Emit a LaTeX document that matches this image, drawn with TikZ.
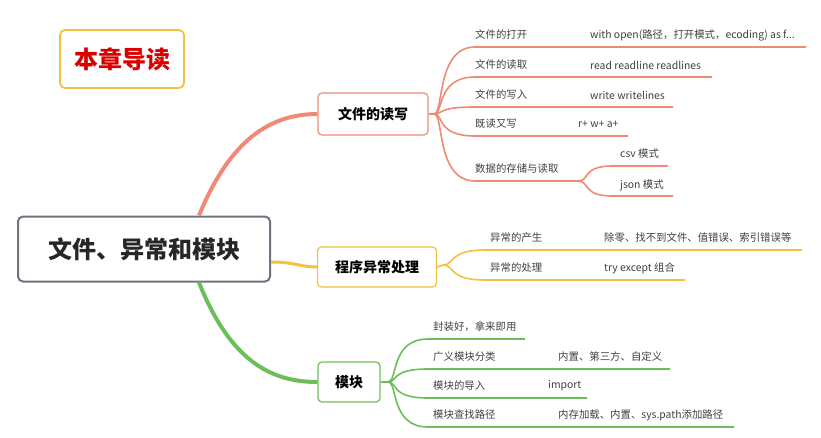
\documentclass[tikz,border=0pt]{standalone}
\usepackage{fontspec}
\setmainfont{Noto Sans CJK SC}
\usetikzlibrary{calc,positioning}
\definecolor{redline}{HTML}{F08A76}
\definecolor{yelline}{HTML}{F5C040}
\definecolor{grnline}{HTML}{6DBE5B}
\definecolor{graybox}{HTML}{6E7380}
\tikzstyle{branch}=[rectangle, draw, very thick, fill=white, rounded corners=4pt,
		font=\bfseries\fontsize{14}{16}\selectfont, inner sep=0pt]
\tikzstyle{leaf}=[anchor=west, inner sep=0pt, text=black!75,
		font=\fontsize{10.4}{12}\selectfont]
\tikzstyle{line}=[-, line width=1.6pt]

\begin{document}
\begin{tikzpicture}[x=1pt,y=-1pt]
    \useasboundingbox (0,0) rectangle (821,437);

    \node (Title) at (122,59) [rectangle, draw=yelline, line width=1.8pt,
            rounded corners=5pt, minimum width=124pt, minimum height=58pt,
            text=red!85!black, font=\bfseries\fontsize{24}{26}\selectfont] {本章导读};

    \node (Main) at (144,249) [rectangle, draw=graybox, line width=2pt,
            rounded corners=5pt, minimum width=252pt, minimum height=65pt,
            font=\bfseries\fontsize{24}{26}\selectfont, text=black!85] {文件、异常和模块};

    \node (File) at (373,114) [branch, draw=redline,
            minimum width=110pt, minimum height=42pt] {文件的读写};
    \node (Exc) at (377,267) [branch, draw=yelline,
            minimum width=119pt, minimum height=40pt] {程序异常处理};
    \node (Mod) at (349,382) [branch, draw=grnline,
            minimum width=62pt, minimum height=40pt] {模块};

    % main to branches
    \draw [line, redline, line width=4pt] ([xshift=55pt]Main.north)
        .. controls (230,140) and (270,114) .. (File.west);
    \draw [line, yelline, line width=3pt] ([yshift=-13pt]Main.east)
        .. controls (295,262) and (300,267) .. (Exc.west);
    \draw [line, grnline, line width=4pt] ([xshift=55pt]Main.south)
        .. controls (230,360) and (270,382) .. (Mod.west);

    % file branch
    \coordinate (fF) at (434,114);
    \draw [line, redline] (File.east) -- (fF);
    \foreach \y/\e/\name/\val/\vx in {
        47/806/文件的打开/{with open(路径，打开模式，ecoding) as f...}/590,
        77/712/文件的读取/{read readline readlines}/590,
        107/673/文件的写入/{write writelines}/590,
        136/628/既读又写/{r+ w+ a+}/578,
        181/580/数据的存储与读取//580}{
      \node [leaf] at (475,\y-12) {\name};
      \node [leaf] at (\vx,\y-12) {\val};
      \draw [line, redline] (fF) .. controls (444,114) and (436,\y) .. (475,\y) -- (\e,\y);
    }
    \coordinate (fD) at (578,181);
    \node (Csv) [leaf] at (620,154) {csv 模式};
    \node (Json) [leaf] at (620,185) {json 模式};
    \draw [line, redline] (fD) .. controls (590,181) and (582,166) .. (612,166) -- (668,166);
    \draw [line, redline] (fD) .. controls (590,181) and (582,196) .. (612,196) -- (673,196);

    % exception branch
    \coordinate (fE) at (443,265);
    \draw [line, yelline] (Exc.east) -- (fE);
    \foreach \y/\e/\name/\val in {
        250/802/异常的产生/{除零、找不到文件、值错误、索引错误等},
        280/685/异常的处理/{try except 组合}}{
      \node [leaf] at (490,\y-12) {\name};
      \node [leaf] at (604,\y-12) {\val};
      \draw [line, yelline] (fE) .. controls (455,265) and (448,\y) .. (485,\y) -- (\e,\y);
    }

    % module branch
    \coordinate (fM) at (388,382);
    \draw [line, grnline] (Mod.east) -- (fM);
    \foreach \y/\e/\name/\val/\vx in {
        339/525/封装好，拿来即用//558,
        369/670/广义模块分类/{内置、第三方、自定义}/558,
        398/587/模块的导入/{import}/548,
        427/734/模块查找路径/{内存加载、内置、sys.path添加路径}/558}{
      \node [leaf] at (433,\y-12) {\name};
      \node [leaf] at (\vx,\y-12) {\val};
      \draw [line, grnline] (fM) .. controls (398,382) and (390,\y) .. (428,\y) -- (\e,\y);
    }

\end{tikzpicture}
\end{document}
